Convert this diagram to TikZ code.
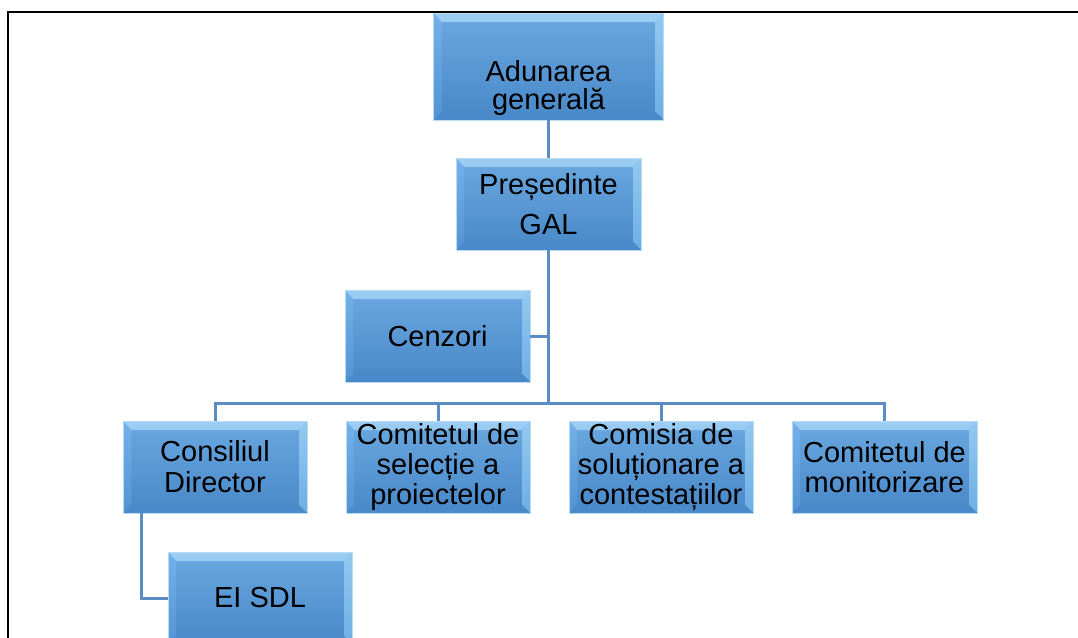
\documentclass[tikz,border=0pt]{standalone}
\usepackage{fontspec}
\setmainfont{Liberation Sans}
\definecolor{facetop}{HTML}{6AA8E0}
\definecolor{facebot}{HTML}{4888C8}
\definecolor{bevtopA}{HTML}{9CCDF3}
\definecolor{bevtopB}{HTML}{76B3E8}
\definecolor{bevleftA}{HTML}{74B1E7}
\definecolor{bevleftB}{HTML}{5294D3}
\definecolor{bevrightA}{HTML}{92C9F1}
\definecolor{bevrightB}{HTML}{6EAEE3}
\definecolor{bevbot}{HTML}{4B8ACA}
\definecolor{boxedge}{HTML}{B8DCF6}
\definecolor{linkcol}{HTML}{5B8DC4}
\tikzset{
  orgbox/.style={rectangle, inner sep=0pt, align=center,
    minimum width=184pt, minimum height=92pt,
    font=\fontsize{29}{30}\selectfont, text=black,
    top color=facetop, bottom color=facebot,
    draw=boxedge, line width=0.8pt,
    path picture={
      \shade[top color=bevtopA, bottom color=bevtopB] (path picture bounding box.north west) -- (path picture bounding box.north east)
        -- ([shift={(-8pt,-9pt)}]path picture bounding box.north east)
        -- ([shift={(8pt,-9pt)}]path picture bounding box.north west) -- cycle;
      \shade[top color=bevleftA, bottom color=bevleftB] (path picture bounding box.north west) -- (path picture bounding box.south west)
        -- ([shift={(8pt,8pt)}]path picture bounding box.south west)
        -- ([shift={(8pt,-9pt)}]path picture bounding box.north west) -- cycle;
      \shade[top color=bevrightA, bottom color=bevrightB] (path picture bounding box.north east) -- (path picture bounding box.south east)
        -- ([shift={(-8pt,8pt)}]path picture bounding box.south east)
        -- ([shift={(-8pt,-9pt)}]path picture bounding box.north east) -- cycle;
      \fill[bevbot] (path picture bounding box.south west) -- (path picture bounding box.south east)
        -- ([shift={(-8pt,8pt)}]path picture bounding box.south east)
        -- ([shift={(8pt,8pt)}]path picture bounding box.south west) -- cycle;
    }},
  boxtext/.style={inner sep=0pt, align=center, text=black},
  link/.style={draw=linkcol, line width=3pt},
  frameline/.style={draw=black, line width=2pt}
}
\begin{document}
\begin{tikzpicture}[x=1pt, y=-1pt]
\useasboundingbox (0,0) rectangle (1078,637);
\clip (0,0) rectangle (1078,637);
\fill[white] (0,0) rectangle (1078,637);
\draw[frameline] (1100,12) -- (8,12) -- (8,660);
% nodes
\node[orgbox, minimum width=230pt, minimum height=107pt] (adun) at (548.5,66.5) {};
\node[boxtext, font=\fontsize{29}{28}\selectfont] (adunT) at (548.5,88.5) {Adunarea\\generală};
\node[orgbox, minimum width=185pt, font=\fontsize{29}{40}\selectfont] (pres) at (548.5,204) {Președinte\\GAL};
\node[orgbox, minimum width=185pt] (cenz) at (437.5,336) {Cenzori};
\node[orgbox, font=\fontsize{29}{31}\selectfont] (cons) at (215,467) {Consiliul\\Director};
\node[orgbox] (sel) at (438,467) {Comitetul de\\selecție a\\proiectelor};
\node[orgbox] (sol) at (661,467) {Comisia de\\soluționare a\\contestațiilor};
\node[orgbox, minimum width=185pt] (mon) at (884.5,467) {Comitetul de\\monitorizare};
\node[orgbox] (ei) at (260,598) {EI SDL};
\coordinate (bus) at (548.5,403);
% connectors
\draw[link] (adun.south) -- (pres.north);
\draw[link] (pres.south) -- (bus);
\draw[link] (cenz.east) -- (cenz.east -| bus);
\draw[link] (cons.north) |- (bus) -| (mon.north);
\draw[link] (sel.north) -- (sel.north |- bus);
\draw[link] (sol.north) -- (sol.north |- bus);
\draw[link] ([xshift=19pt]cons.south west) |- (ei.west);
\end{tikzpicture}
\end{document}
